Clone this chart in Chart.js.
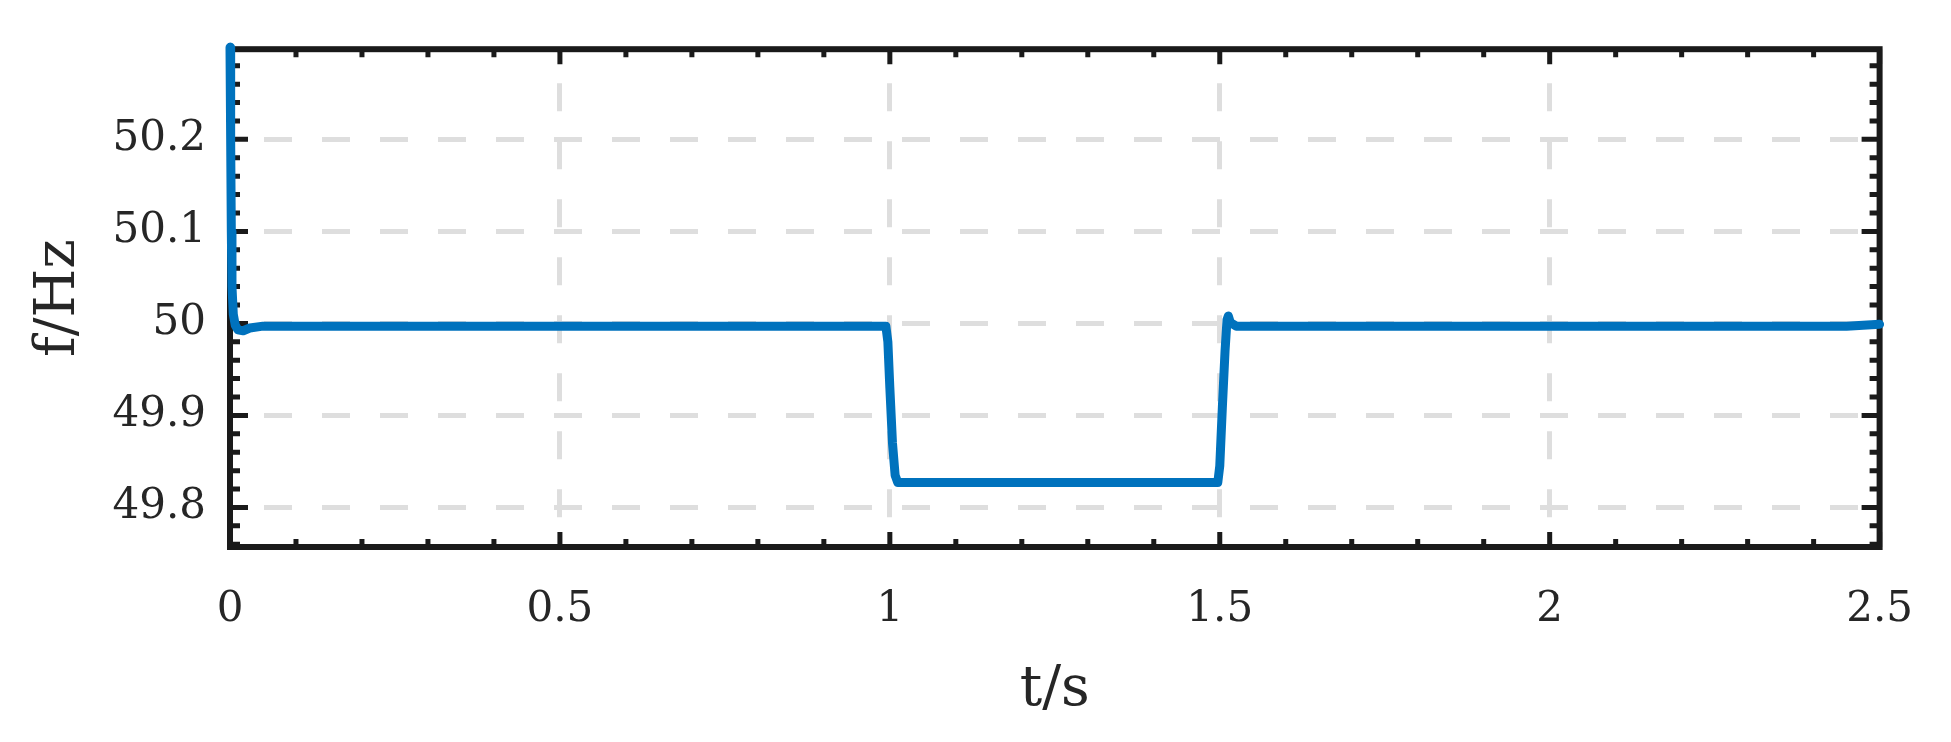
<!DOCTYPE html>
<html>
<head>
<meta charset="utf-8">
<script src="https://cdn.jsdelivr.net/npm/chart.js@4"></script>
<style>
  html, body { margin: 0; padding: 0; background: #fff; }
  #wrap { width: 1951px; height: 742px; }
</style>
</head>
<body>
<div id="wrap"><canvas id="freqChart"></canvas></div>
<script>
// time (s) and frequency (Hz)
const timeS = [0, 0.001, 0.002, 0.003, 0.005, 0.008, 0.012, 0.02, 0.03, 0.05, 0.3, 0.6, 0.9,
  0.994, 0.997, 1.0, 1.004, 1.008, 1.012, 1.03, 1.2, 1.4, 1.497,
  1.5, 1.504, 1.508, 1.511, 1.513, 1.516, 1.525, 1.8, 2.1, 2.45, 2.5];
const freqHz = [50.30, 50.20, 50.10, 50.04, 50.01, 49.998, 49.993, 49.992, 49.995, 49.997, 49.997, 49.997, 49.997,
  49.997, 49.98, 49.93, 49.87, 49.835, 49.827, 49.827, 49.827, 49.827, 49.827,
  49.845, 49.91, 49.97, 50.004, 50.008, 50.001, 49.997, 49.997, 49.997, 49.997, 49.999];

const xTicks = [0, 0.5, 1, 1.5, 2, 2.5];
const yTicks = [49.8, 49.9, 50, 50.1, 50.2];

const inkColor = '#1a1a1a';
const textColor = '#262626';
const gridColor = '#dedede';

// draw the boxed frame with inward ticks (major + minor), under the data line
const frame = {
  id: 'frame',
  beforeDatasetsDraw(chart) {
    const {ctx, chartArea: a, scales: {x, y}} = chart;
    ctx.save();
    ctx.strokeStyle = inkColor;
    ctx.lineCap = 'butt';
    ctx.lineWidth = 5;
    // x ticks every 0.1
    for (let i = 0; i <= 25; i++) {
      const px = x.getPixelForValue(i / 10);
      const len = i % 5 === 0 ? 15 : 8;
      ctx.beginPath();
      ctx.moveTo(px, a.bottom); ctx.lineTo(px, a.bottom - len);
      ctx.moveTo(px, a.top); ctx.lineTo(px, a.top + len);
      ctx.stroke();
    }
    // y ticks every 0.02
    for (let i = Math.ceil(y.min / 0.02); i <= Math.floor(y.max / 0.02); i++) {
      const py = y.getPixelForValue(i * 0.02);
      const len = i % 5 === 0 ? 18 : 10;
      ctx.beginPath();
      ctx.moveTo(a.left, py); ctx.lineTo(a.left + len, py);
      ctx.moveTo(a.right, py); ctx.lineTo(a.right - len, py);
      ctx.stroke();
    }
    ctx.lineWidth = 6;
    ctx.strokeRect(a.left, a.top, a.right - a.left, a.bottom - a.top);
    ctx.restore();
  }
};

const ctx = document.getElementById('freqChart').getContext('2d');
const freqChart = new Chart(ctx, {
  type: 'line',
  data: {
    datasets: [{
      label: 'f',
      data: timeS.map((t, i) => ({x: t, y: freqHz[i]})),
      borderColor: '#0072bd',
      borderWidth: 9,
      pointRadius: 0,
      tension: 0,
      borderJoinStyle: 'round',
      borderCapStyle: 'round',
      clip: 10
    }]
  },
  options: {
    responsive: true,
    maintainAspectRatio: false,
    animation: false,
    events: [],
    layout: {
      padding: { top: 47, right: 66, left: 0, bottom: 0 }
    },
    plugins: {
      legend: { display: false },
      tooltip: { enabled: false }
    },
    scales: {
      x: {
        type: 'linear',
        min: 0,
        max: 2.5,
        afterBuildTicks: s => { s.ticks = xTicks.map(v => ({value: v})); },
        afterFit: s => { s.height = 195; },
        ticks: {
          callback: v => String(v),
          color: textColor,
          padding: 38,
          maxRotation: 0,
          font: { family: 'DejaVu Serif', size: 42 }
        },
        grid: {
          drawTicks: false,
          lineWidth: 5,
          color: c => (c.tick && (c.tick.value === 0 || c.tick.value === 2.5)) ? 'rgba(0,0,0,0)' : gridColor
        },
        border: { display: false, dash: [28, 30], dashOffset: 24 },
        title: {
          display: true,
          text: 't/s',
          color: textColor,
          padding: { top: 0, bottom: 18 },
          font: { family: 'DejaVu Serif', size: 56 }
        }
      },
      y: {
        type: 'linear',
        min: 49.757,
        max: 50.298,
        afterBuildTicks: s => { s.ticks = yTicks.map(v => ({value: v})); },
        afterFit: s => { s.width = 230; },
        ticks: {
          callback: v => String(v),
          color: textColor,
          padding: 24,
          font: { family: 'DejaVu Serif', size: 42 }
        },
        grid: {
          drawTicks: false,
          lineWidth: 5,
          color: gridColor
        },
        border: { display: false, dash: [28, 30], dashOffset: 24 },
        title: {
          display: true,
          text: 'f/Hz',
          color: textColor,
          padding: { top: 26, bottom: 0 },
          font: { family: 'DejaVu Serif', size: 56 }
        }
      }
    }
  },
  plugins: [frame]
});
</script>
</body>
</html>
